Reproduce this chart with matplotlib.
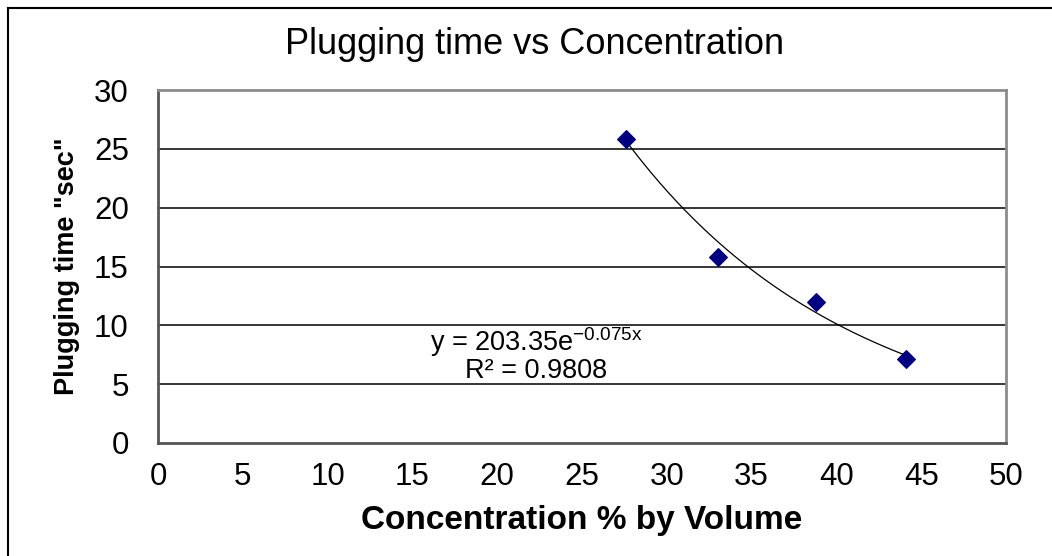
import numpy as np
import matplotlib
matplotlib.use("Agg")
import matplotlib.pyplot as plt
from matplotlib.lines import Line2D

concentration = [27.6, 33.0, 38.8, 44.1]
plug_time = [25.8, 15.8, 12.0, 7.1]
fit_a = 203.35
fit_b = -0.075
r2 = 0.9808
x_ticks = [0, 5, 10, 15, 20, 25, 30, 35, 40, 45, 50]
y_ticks = [0, 5, 10, 15, 20, 25, 30]

plt.rcParams['font.family'] = ["Liberation Sans", "DejaVu Sans"]

fig = plt.figure(figsize=(10.52, 5.56), dpi=100)
ax = fig.add_axes([158/1052, 1-443/556, (1006-158)/1052, (443-90)/556])

ax.set_xlim(0, 50)
ax.set_ylim(0, 30)
ax.set_xticks(x_ticks)
ax.set_yticks(y_ticks)
ax.tick_params(length=0, labelsize=22.5)
ax.tick_params(axis='x', pad=14)
ax.tick_params(axis='y', pad=21)
for y in y_ticks[1:-1]:
    ax.axhline(y, color='black', lw=1.1, zorder=1)

for s in ['top', 'right']:
    ax.spines[s].set_color('#8c8c8c')
    ax.spines[s].set_linewidth(2)
for s in ['left', 'bottom']:
    ax.spines[s].set_color('#555555')
    ax.spines[s].set_linewidth(2)

xf = np.linspace(min(concentration), max(concentration), 200)
ax.plot(xf, fit_a*np.exp(fit_b*xf), color='black', lw=0.9, zorder=2)
ax.scatter(concentration, plug_time, marker='D', s=80, color='#000080', zorder=3)

eq = "y = %.2fe$^{\\mathregular{%.3fx}}$\nR² = %.4f" % (fit_a, fit_b, r2)
ax.text(22.3, 5.0, eq, ha='center', va='bottom', multialignment='center',
        fontsize=19.5, linespacing=0.95)

fig.text(0.508, 1-44/556, "Plugging time vs Concentration", ha='center', va='center', fontsize=26)
ax.set_xlabel("Concentration % by Volume", fontsize=24, fontweight='bold', labelpad=9)
ax.set_ylabel('Plugging time "sec"', fontsize=19.5, fontweight='bold', labelpad=10)

fig.add_artist(Line2D([8/1052, 8/1052], [0, 1-8/556], transform=fig.transFigure, color='black', lw=1.5))
fig.add_artist(Line2D([8/1052, 1], [1-8/556, 1-8/556], transform=fig.transFigure, color='black', lw=1.5))

fig.savefig("out.png", dpi=100)
